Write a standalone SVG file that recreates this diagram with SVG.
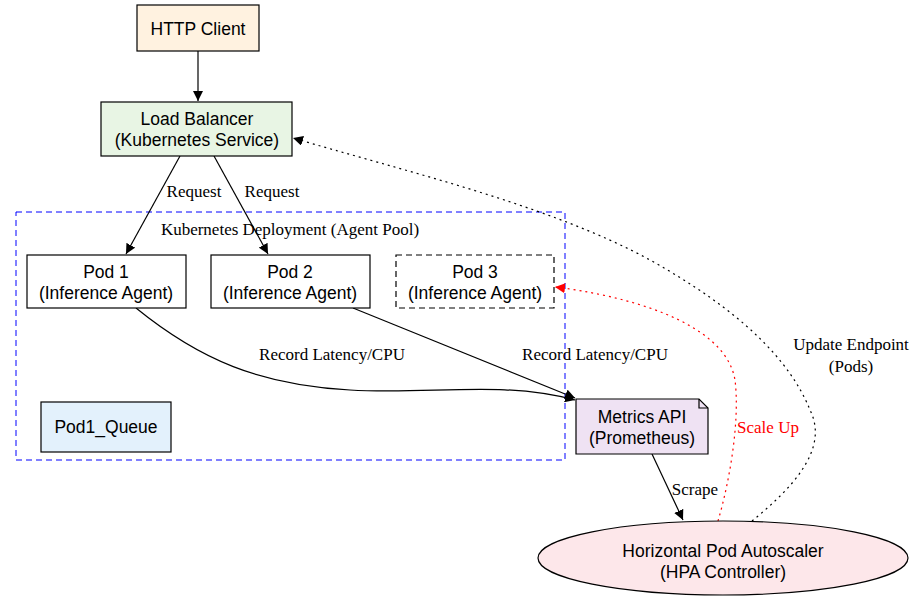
<svg xmlns="http://www.w3.org/2000/svg" width="919" height="602" viewBox="0 0 919 602">
<style>
.n{stroke:#000;stroke-width:1.2}
.t{font-family:"Liberation Sans",Arial,sans-serif;font-size:17.5px;text-anchor:middle}
.l{font-family:"Liberation Serif","Times New Roman",serif;font-size:17px;text-anchor:middle}
.e{fill:none;stroke:#000;stroke-width:1.2}
</style>
<defs>
<marker id="a" viewBox="0 0 10 10" refX="10" refY="5" markerWidth="10" markerHeight="10" markerUnits="userSpaceOnUse" orient="auto"><path d="M0,0L10,5L0,10z" fill="#000"/></marker>
<marker id="r" viewBox="0 0 10 10" refX="10" refY="5" markerWidth="10" markerHeight="10" markerUnits="userSpaceOnUse" orient="auto"><path d="M0,0L10,5L0,10z" fill="#f00"/></marker>
</defs>
<rect width="919" height="602" fill="#fff"/>
<g id="cluster"><rect x="16" y="212" width="549" height="248" fill="none" stroke="#00f" stroke-dasharray="6,4"/><text class="l" x="290" y="235">Kubernetes Deployment (Agent Pool)</text></g>
<g id="connectors">
<path class="e" d="M198,51L198,101" marker-end="url(#a)"/>
<path class="e" d="M180,156L126,254" marker-end="url(#a)"/>
<text class="l" x="194" y="197">Request</text>
<path class="e" d="M214,156L268,254" marker-end="url(#a)"/>
<text class="l" x="272" y="197">Request</text>
<path class="e" d="M136,308C200,360 260,385 350,390C430,395 500,380 575,400" marker-end="url(#a)"/>
<text class="l" x="332" y="360">Record Latency/CPU</text>
<path class="e" d="M353,308L575,398" marker-end="url(#a)"/>
<text class="l" x="595" y="360">Record Latency/CPU</text>
<path class="e" d="M652,454L683,520" marker-end="url(#a)"/>
<text class="l" x="695" y="495">Scrape</text>
<path d="M718,521C730,480 740,420 735,380C725,320 620,295 555,287" fill="none" stroke="#f00" stroke-width="1.2" stroke-dasharray="2,4" marker-end="url(#r)"/>
<text class="l" x="768" y="433" fill="#f00">Scale Up</text>
<path class="e" stroke-dasharray="2,4" d="M752,521C790,490 830,450 810,410C790,360 740,310 650,260C550,205 400,170 293,138" marker-end="url(#a)"/>
<text class="l" x="851" y="350">Update Endpoint</text>
<text class="l" x="851" y="372">(Pods)</text>
</g>
<g id="http"><rect class="n" x="137" y="5" width="122" height="46" fill="#fff2e0"/><text class="t" x="198" y="35">HTTP Client</text></g>
<g id="lb"><rect class="n" x="101" y="102" width="191" height="54" fill="#e8f5e4"/><text class="t" x="197" y="125">Load Balancer</text><text class="t" x="197" y="146">(Kubernetes Service)</text></g>
<g id="pod1"><rect class="n" x="27" y="255" width="159" height="53" fill="#fff"/><text class="t" x="106" y="278">Pod 1</text><text class="t" x="106" y="299">(Inference Agent)</text></g>
<g id="pod2"><rect class="n" x="211" y="255" width="159" height="53" fill="#fff"/><text class="t" x="290" y="278">Pod 2</text><text class="t" x="290" y="299">(Inference Agent)</text></g>
<g id="pod3"><rect class="n" x="396" y="255" width="158" height="53" fill="#fff" stroke-dasharray="6,4"/><text class="t" x="475" y="278">Pod 3</text><text class="t" x="475" y="299">(Inference Agent)</text></g>
<g id="queue"><rect class="n" x="41" y="402" width="130" height="50" fill="#e3f1fc"/><text class="t" x="106" y="433">Pod1_Queue</text></g>
<g id="metrics"><path class="n" d="M576,399H699L708,408V454H576Z" fill="#efe2f3"/><path class="n" d="M699,399V408H708" fill="none"/><text class="t" x="642" y="423">Metrics API</text><text class="t" x="642" y="444">(Prometheus)</text></g>
<g id="hpa"><ellipse class="n" cx="723" cy="558" rx="185" ry="37" fill="#fde7ea"/><text class="t" x="723" y="557">Horizontal Pod Autoscaler</text><text class="t" x="723" y="578">(HPA Controller)</text></g>
</svg>
